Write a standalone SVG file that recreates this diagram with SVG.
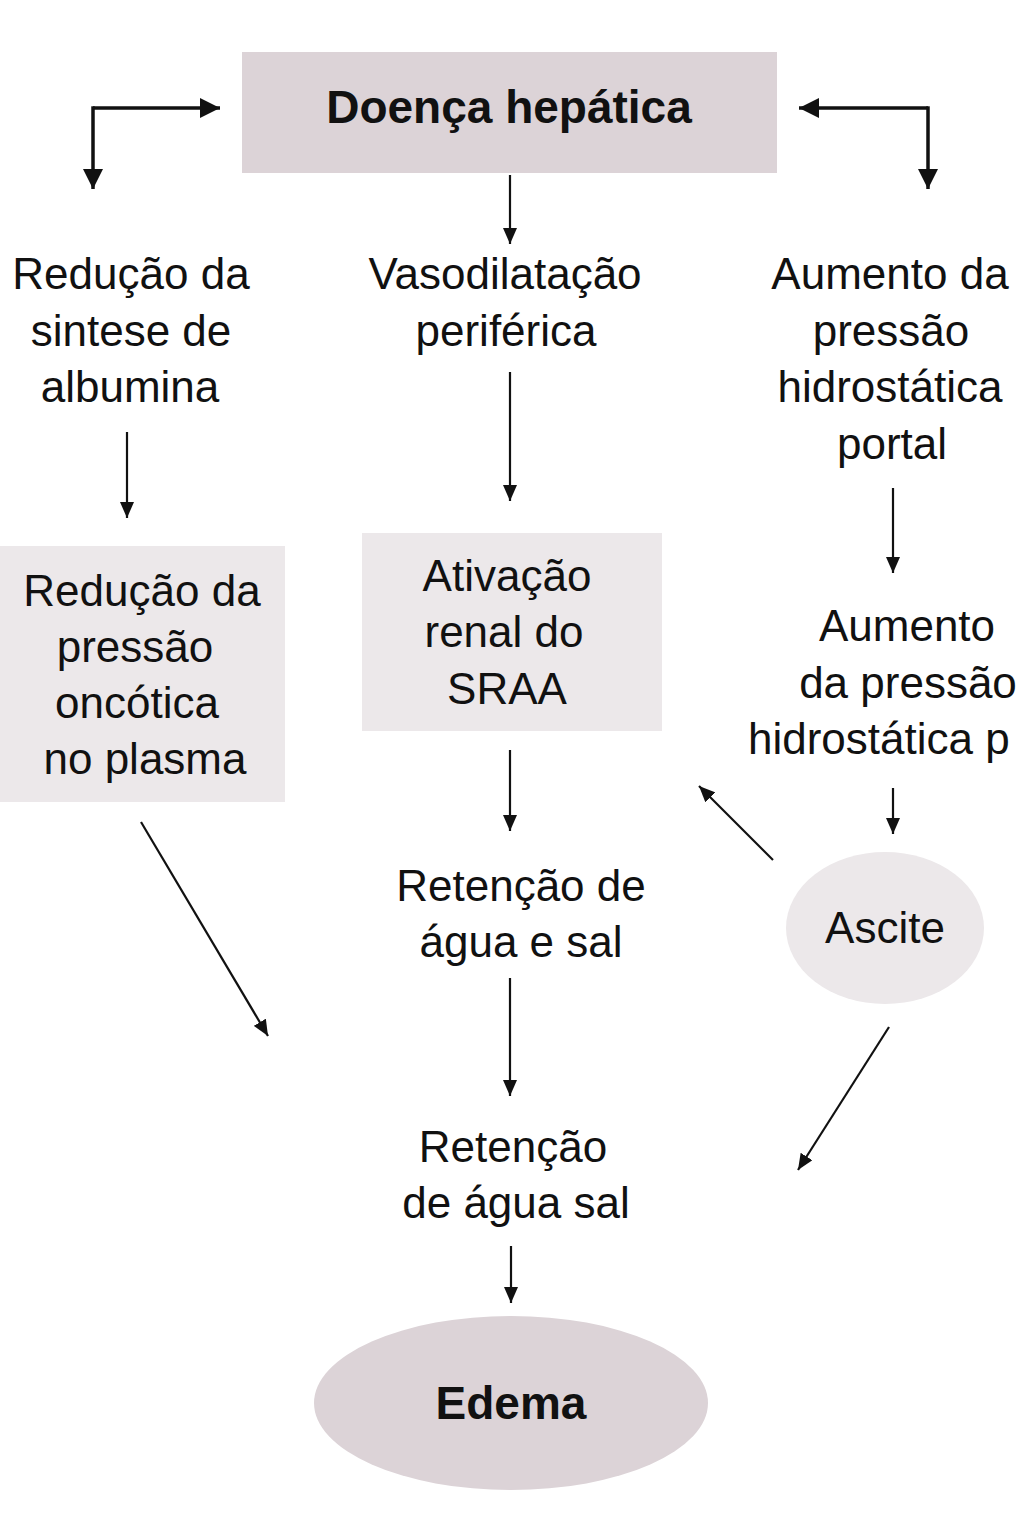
<svg xmlns="http://www.w3.org/2000/svg" width="1024" height="1536" viewBox="0 0 1024 1536">
<defs>
<marker id="ah" viewBox="0 0 16 14" refX="16" refY="7" markerWidth="16" markerHeight="14" markerUnits="userSpaceOnUse" orient="auto">
<path d="M0,0 L16,7 L0,14 Z" fill="#111"/>
</marker>
<marker id="ahb" viewBox="0 0 20 20" refX="20" refY="10" markerWidth="20" markerHeight="20" markerUnits="userSpaceOnUse" orient="auto">
<path d="M0,0 L20,10 L0,20 Z" fill="#111"/>
</marker>
</defs>
<style>
.t{font-family:"Liberation Sans",Arial,sans-serif;font-size:44px;fill:#111;text-anchor:middle}
.b{font-weight:bold;font-size:46px}
.ln{stroke:#111;stroke-width:2.2;fill:none;marker-end:url(#ah)}
.el{stroke:#111;stroke-width:3.5;fill:none;marker-end:url(#ahb)}
.dark{fill:#dcd3d7}
.light{fill:#ece8ea}
</style>
<rect width="1024" height="1536" fill="#fff"/>
<g id="n-doenca">
<rect class="dark" x="242" y="52" width="535" height="121"/>
<text class="t b" x="509" y="123">Doença hepática</text>
</g>
<g id="n-albumina">
<text class="t" x="131" y="289">Redução da</text>
<text class="t" x="131" y="346">sintese de</text>
<text class="t" x="130" y="402">albumina</text>
</g>
<g id="n-vaso">
<text class="t" x="505" y="289">Vasodilatação</text>
<text class="t" x="506" y="346">periférica</text>
</g>
<g id="n-portal">
<text class="t" x="890" y="289">Aumento da</text>
<text class="t" x="891" y="346">pressão</text>
<text class="t" x="890" y="402">hidrostática</text>
<text class="t" x="892" y="459">portal</text>
</g>
<g id="n-oncotica">
<rect class="light" x="0" y="546" width="285" height="256"/>
<text class="t" x="142" y="606">Redução da</text>
<text class="t" x="135" y="662">pressão</text>
<text class="t" x="137" y="718">oncótica</text>
<text class="t" x="145" y="774">no plasma</text>
</g>
<g id="n-sraa">
<rect class="light" x="362" y="533" width="300" height="198"/>
<text class="t" x="507" y="591">Ativação</text>
<text class="t" x="504" y="647">renal do</text>
<text class="t" x="507" y="704">SRAA</text>
</g>
<g id="n-pressao-p">
<text class="t" x="907" y="641">Aumento</text>
<text class="t" x="908" y="698">da pressão</text>
<text class="t" x="748" y="754" style="text-anchor:start">hidrostática p</text>
</g>
<g id="n-ascite">
<ellipse class="light" cx="885" cy="928" rx="99" ry="76"/>
<text class="t" x="885" y="943">Ascite</text>
</g>
<g id="n-retencao1">
<text class="t" x="521" y="901">Retenção de</text>
<text class="t" x="521" y="957">água e sal</text>
</g>
<g id="n-retencao2">
<text class="t" x="513" y="1162">Retenção</text>
<text class="t" x="516" y="1218">de água sal</text>
</g>
<g id="n-edema">
<ellipse class="dark" cx="511" cy="1403" rx="197" ry="87"/>
<text class="t b" x="511" y="1419">Edema</text>
</g>
<g id="connectors">
<path class="el" d="M93,108 L220,108"/>
<path class="el" d="M93,106.3 L93,189"/>
<path class="el" d="M928,108 L799,108"/>
<path class="el" d="M928,106.3 L928,189"/>
<path class="ln" d="M510,175 L510,244"/>
<path class="ln" d="M127,432 L127,518"/>
<path class="ln" d="M510,372 L510,501"/>
<path class="ln" d="M893,488 L893,573"/>
<path class="ln" d="M893,788 L893,834"/>
<path class="ln" d="M510,750 L510,831"/>
<path class="ln" d="M773,860 L699,786"/>
<path class="ln" d="M141,822 L268,1036"/>
<path class="ln" d="M510,978 L510,1096"/>
<path class="ln" d="M889,1027 L798,1170"/>
<path class="ln" d="M511,1246 L511,1303"/>
</g>
</svg>
